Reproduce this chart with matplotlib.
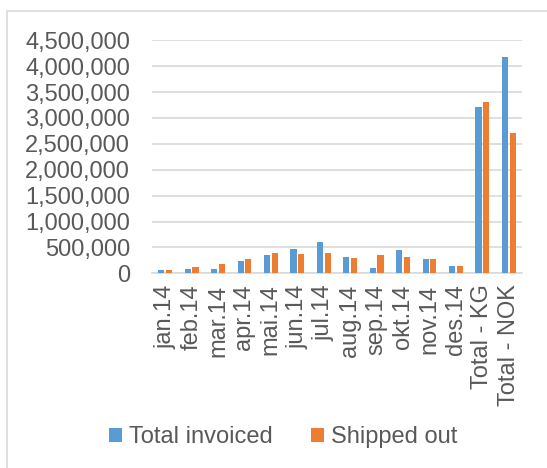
import numpy as np
import matplotlib.pyplot as plt
from matplotlib.patches import Rectangle

plt.rcParams['font.family'] = ['Liberation Sans', 'DejaVu Sans']

categories = ['jan.14', 'feb.14', 'mar.14', 'apr.14', 'mai.14', 'jun.14', 'jul.14',
              'aug.14', 'sep.14', 'okt.14', 'nov.14', 'des.14', 'Total - KG', 'Total - NOK']
invoiced = [65000, 77000, 90000, 238000, 348000, 470000, 598000,
            322000, 97000, 444000, 270000, 135000, 3217000, 4183000]
shipped = [65000, 122000, 174000, 277000, 392000, 373000, 386000,
           302000, 354000, 315000, 270000, 148000, 3301000, 2703000]

BLUE = '#5B9BD5'
ORANGE = '#ED7D31'
TEXT = '#595959'
GRID = '#D9D9D9'

fig = plt.figure(figsize=(5.47, 4.68), dpi=100)
ax = fig.add_axes([152 / 547, 1 - 273.3 / 468, 370 / 547, 233 / 468])

# chart frame (left and top edges show)
fig.patches.append(Rectangle((7 / 547, -0.1), 1.2, 1 - 11 / 468 + 0.1,
                             transform=fig.transFigure, fill=False,
                             edgecolor=GRID, linewidth=1.2))

x = np.arange(len(categories))
w = 0.23
ax.bar(x - 0.145, invoiced, w, color=BLUE, label='Total invoiced', zorder=3)
ax.bar(x + 0.145, shipped, w, color=ORANGE, label='Shipped out', zorder=3)

ax.set_xlim(-0.5, len(categories) - 0.5)
ax.set_ylim(0, 4500000)
ax.set_yticks(np.arange(0, 4500001, 500000))
ax.yaxis.set_major_formatter(plt.FuncFormatter(lambda v, p: f'{int(v):,}'))
ax.set_xticks(x)
ax.set_xticklabels(categories, rotation=90)
ax.tick_params(axis='both', length=0, labelsize=17, labelcolor=TEXT)
ax.tick_params(axis='y', pad=15.8)
ax.tick_params(axis='x', pad=8)
ax.grid(axis='y', color=GRID, linewidth=1.2, zorder=0)
for s in ['top', 'right', 'left']:
    ax.spines[s].set_visible(False)
ax.spines['bottom'].set_color(GRID)
ax.spines['bottom'].set_linewidth(1.2)

fig.legend(loc='center', bbox_to_anchor=(0.518, 1 - 437 / 468), ncol=2, frameon=False,
           fontsize=17, labelcolor=TEXT, handlelength=0.55, handleheight=0.55,
           handletextpad=0.3, columnspacing=1.6)

fig.savefig('out.png', dpi=100)
